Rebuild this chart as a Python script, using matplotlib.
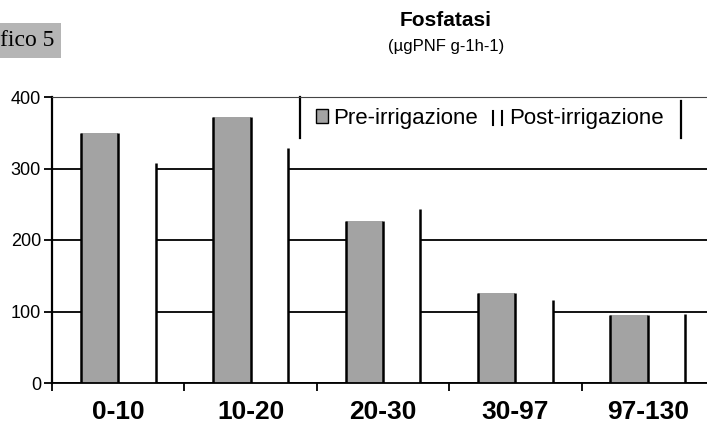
import numpy as np
import matplotlib.pyplot as plt
from matplotlib.patches import Rectangle
from matplotlib.lines import Line2D
from matplotlib.legend_handler import HandlerBase

""" Fosfatasi pre / post irrigazione, bar chart"""

depths = ["0-10", "10-20", "20-30", "30-97", "97-130"]
pre = [350, 372, 227, 126, 95]
post = [308, 329, 244, 116, 96]
yticks = [0, 100, 200, 300, 400]

gray = "#a3a3a3"
plt.rcParams['font.family'] = ['Liberation Sans', 'DejaVu Sans']


class TwoBars(HandlerBase):
    # white legend patch drawn only as its two sides
    def create_artists(self, legend, orig, xd, yd, w, h, fontsize, trans):
        l1 = Line2D([xd + 0.15 * w] * 2, [yd, yd + h], color="black", lw=1.5, transform=trans)
        l2 = Line2D([xd + 0.85 * w] * 2, [yd, yd + h], color="black", lw=1.5, transform=trans)
        return [l1, l2]


fig = plt.figure(figsize=(7.07, 4.37), dpi=100)
ax = fig.add_axes([52 / 707, 54 / 437, 662 / 707, 286 / 437])

x = np.arange(len(depths))
w = 0.283
xp = x - w / 2
xq = x + w / 2

ax.bar(xp, pre, w, color=gray, edgecolor="none", zorder=2)
ax.bar(xq, post, w, color="white", edgecolor="none", zorder=2)
ax.vlines(xp - w / 2, 0, pre, color="black", lw=1.8, zorder=3)
ax.vlines(xp + w / 2, 0, pre, color="black", lw=1.8, zorder=3)
ax.vlines(xq + w / 2, 0, post, color="black", lw=1.8, zorder=3)

ax.set_xlim(-0.5, len(depths) - 0.5)
ax.set_ylim(0, 400)
ax.set_yticks(yticks)
ax.set_yticklabels([str(t) for t in yticks], fontsize=13)
ax.yaxis.grid(True, color="black", lw=1.3, zorder=1)
ax.set_axisbelow(True)
ax.set_xticks(x)
ax.set_xticklabels(depths, fontsize=19, fontweight="bold")
ax.tick_params(axis="x", length=0, pad=12)
ax.set_xticks(np.arange(len(depths)) - 0.5, minor=True)
ax.tick_params(axis="x", which="minor", length=6, width=1.3, direction="out")
ax.tick_params(axis="y", length=6, width=1.3, direction="out", pad=2)

ax.spines["right"].set_visible(False)
ax.spines["top"].set_color("#444444")
ax.spines["left"].set_linewidth(1.6)
ax.spines["bottom"].set_linewidth(1.3)

h1 = Rectangle((0, 0), 1, 1, facecolor=gray, edgecolor="black", lw=1)
h2 = Rectangle((0, 0), 1, 1, facecolor="white")
leg = ax.legend([h1, h2], ["Pre-irrigazione", "Post-irrigazione"], ncol=2,
                loc="upper left", bbox_to_anchor=(0.373, 1.02), frameon=False,
                fontsize=16, handlelength=0.55, handleheight=0.6, handletextpad=0.25,
                columnspacing=0.6, borderaxespad=0.35,
                handler_map={h2: TwoBars()})
ax.plot([0.375, 0.375], [0.855, 1.0], transform=ax.transAxes, color="black", lw=1.6, clip_on=False)
ax.plot([0.95, 0.95], [0.855, 0.985], transform=ax.transAxes, color="black", lw=1.6, clip_on=False)

fig.text(0.631, 0.952, "Fosfatasi", ha="center", va="center", fontsize=15, fontweight="bold")
fig.text(0.631, 0.893, "(\u00b5gPNF g-1h-1)", ha="center", va="center", fontsize=12)
fig.text(0.0, 0.908, "fico 5", ha="left", va="center", fontsize=17,
         family=["Liberation Serif", "DejaVu Serif"],
         bbox=dict(boxstyle="square,pad=0.3", facecolor="#b5b5b5", edgecolor="none"))

plt.savefig("out.png", dpi=100)
